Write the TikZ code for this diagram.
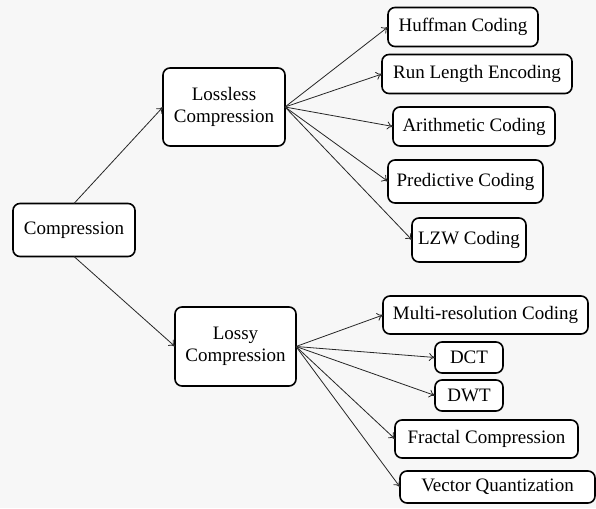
\documentclass[tikz,border=0pt]{standalone}
\usepackage{fontspec}
\setmainfont{Liberation Serif}
\usetikzlibrary{arrows.meta}
\begin{document}
\begin{tikzpicture}[x=1pt,y=1pt,
  box/.style={draw=black,line width=1.6pt,rounded corners=7pt,fill=white,
    inner sep=0pt,outer sep=0pt,align=center,font=\fontsize{19}{22}\selectfont},
  link/.style={draw=black!85,line width=0.8pt,-{To[length=6pt,width=8pt]}}]
\definecolor{fillColor}{RGB}{247,247,247}
\path[use as bounding box,fill=fillColor] (0,0) rectangle (596,508);

% root
\node[box,minimum width=122pt,minimum height=53pt] (comp) at ( 74.0,278.0) {Compression};

% two families
\node[box,minimum width=122pt,minimum height=78pt] (lossless) at (224.0,401.0) {Lossless\\Compression};
\node[box,minimum width=121pt,minimum height=79pt] (lossy) at (235.5,161.5) {Lossy\\Compression};

% lossless methods
\node[box,minimum width=150pt,minimum height=39pt] (huff) at (463.0,481.0) {Huffman Coding};
\node[box,minimum width=190pt,minimum height=39pt] (rle) at (477.0,434.0) {Run Length Encoding};
\node[box,minimum width=162pt,minimum height=39pt] (arith) at (474.0,381.5) {Arithmetic Coding};
\node[box,minimum width=155pt,minimum height=43pt] (pred) at (465.5,326.5) {Predictive Coding};
\node[box,minimum width=114pt,minimum height=44pt] (lzw) at (469.0,268.0) {LZW Coding};

% lossy methods
\node[box,minimum width=205pt,minimum height=38pt] (multi) at (485.5,193.0) {Multi-resolution Coding};
\node[box,minimum width= 68pt,minimum height=31pt] (dct) at (469.0,150.5) {DCT};
\node[box,minimum width= 68pt,minimum height=31pt] (dwt) at (469.0,112.5) {DWT};
\node[box,minimum width=183pt,minimum height=38pt] (fractal) at (486.5, 69.0) {Fractal Compression};
\node[box,minimum width=195pt,minimum height=32pt] (vq) at (497.5, 21.0) {Vector Quantization};

\path[link] (comp.north) -- (lossless.west);
\path[link] (comp.south) -- (lossy.west);

\foreach \m in {huff,rle,arith,pred,lzw}
  \path[link] (lossless.east) -- (\m.west);

\foreach \m in {multi,dct,dwt,fractal,vq}
  \path[link] (lossy.east) -- (\m.west);
\end{tikzpicture}
\end{document}
